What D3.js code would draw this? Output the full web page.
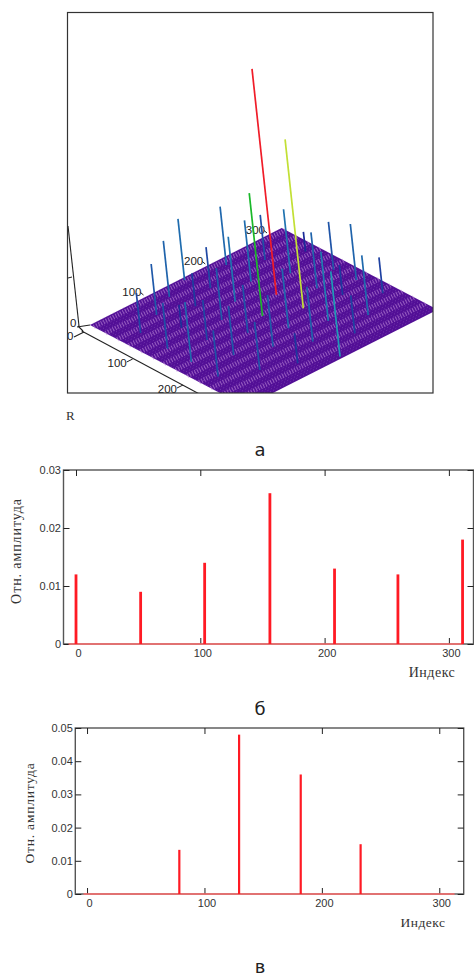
<!DOCTYPE html>
<html><head><meta charset="utf-8">
<script src="https://cdn.jsdelivr.net/npm/d3@7"></script>
<style>html,body{margin:0;padding:0;background:#fff;overflow:hidden}svg{display:block}</style>
</head><body><svg id="c" width="474" height="976"></svg>
<script>
// ---- 3D spectrum data ----
const stemRow = [73,113,153,213,30,27,73,26,120,162,75,120,161,73,25,207,121,71,161,254,207,208,254,302,252,163,120,114,162,209,296,161,263,299,252,211,300];
const stemCol = [47,24,6,18,67,126,98,176,69,48,148,123,100,205,232,76,175,261,156,47,128,182,99,71,156,207,228,286,258,232,136,315,195,179,261,284,232];
const stemAmp = [.0108,.0119,.013,.0124,.0085,.0098,.0049,.0127,.007,.0087,.0085,.011,.0138,.0104,.0098,.013,.0102,.0102,.0261,.0096,.048,.0359,.0136,.0042,.0119,.0127,.011,.0064,.0117,.0147,.0102,.0181,.0064,.0119,.0127,.0081,.0076];
const gridMax = 320;
const rowTicks3d = [100,200,300];
const colTicks3d = [100,200];
// ---- panel б ----
const idxB = [0,52,103.5,156,208,259,311];
const ampB = [.012,.009,.014,.026,.013,.012,.018];
const yTicksB = [0,.01,.02,.03];
// ---- panel в ----
const idxC = [78.6,129.5,182,233];
const ampC = [.0133,.048,.036,.015];
const yTicksC = [0,.01,.02,.03,.04,.05];
const xTicks = [0,100,200,300];

const svg = d3.select('#c');
const SANS = '"Liberation Sans",Arial,sans-serif', SERIF = '"Liberation Serif",serif', CAP = '"DejaVu Sans",sans-serif';

// ---- 3D panel ----
const F = {l:67.5,t:12.5,r:433,b:393};
svg.append('clipPath').attr('id','f3').append('rect').attr('x',F.l).attr('y',F.t).attr('width',F.r-F.l).attr('height',F.b-F.t);
const g3 = svg.append('g').attr('clip-path','url(#f3)');
const rx = d3.scaleLinear().domain([0,gridMax]).range([0,191.7]);
const ry = d3.scaleLinear().domain([0,gridMax]).range([0,-97]);
const cx = d3.scaleLinear().domain([0,gridMax]).range([0,156]);
const cy = d3.scaleLinear().domain([0,gridMax]).range([0,81.6]);
const zy = d3.scaleLinear().domain([0,.048]).range([0,-226]);
const zx = d3.scaleLinear().domain([0,.048]).range([0,-24.4]);
const P = (r,c,z=0,ox=90,oy=325)=>[ox+rx(r)+cx(c)+zx(z), oy+ry(r)+cy(c)+zy(z)];
const line = d3.line();

g3.append('path').attr('d',line([P(0,0),P(gridMax,0),P(gridMax,gridMax),P(0,gridMax)])+'Z').attr('fill','#520f96');
d3.range(8,gridMax,24).forEach(c=>{
  g3.append('path').attr('d',line([P(0,c),P(gridMax,c)])).attr('stroke','#c590dc').attr('stroke-width',4.6).attr('stroke-dasharray','1 1.7').attr('opacity',.6).attr('fill','none');
});
d3.range(0,gridMax,5).forEach(c=>{
  g3.append('path').attr('d',line([P(0,c),P(gridMax,c)])).attr('stroke','#a06ccc').attr('stroke-width',.9).attr('stroke-dasharray','1 2.7').attr('opacity',.5).attr('fill','none');
});

// axes of the 3D box
const ink='#222';
[[[68,226],[79,326]],[[77,327],[90,325]],[[78,326],[83,331]],[[74,337],[84,332]],[[81.7,331],[205,397]]].forEach(s=>
  g3.append('path').attr('d',line(s)).attr('stroke',ink).attr('stroke-width',1.1).attr('fill','none'));
g3.append('path').attr('d',line([[68,278],[72,277]])).attr('stroke',ink).attr('fill','none');
const rowAxX = d3.scaleLinear().domain([100,300]).range([143.5,267]);
const rowAxY = d3.scaleLinear().domain([100,300]).range([295,233]);
const colAxX = d3.scaleLinear().domain([100,200]).range([132.7,183]);
const colAxY = d3.scaleLinear().domain([100,200]).range([359,385]);
rowTicks3d.forEach(r=>{
  const px=rowAxX(r), py=rowAxY(r);
  g3.append('path').attr('d',line([[px-3,py-2.5],[px,py]])).attr('stroke',ink).attr('fill','none');
  g3.append('text').attr('x',px-2).attr('y',py+1).attr('text-anchor','end').attr('font-family',SANS).attr('font-size',11.5).attr('fill','#222').text(r);
});
colTicks3d.forEach(c=>{
  const px=colAxX(c), py=colAxY(c);
  g3.append('path').attr('d',line([[px,py],[px-6,py+3]])).attr('stroke',ink).attr('fill','none');
  g3.append('text').attr('x',px-6).attr('y',py+7.5).attr('text-anchor','end').attr('font-family',SANS).attr('font-size',11.5).attr('fill','#222').text(c);
});
[[70,327],[67,340]].forEach(q=>svg.append('text').attr('x',q[0]).attr('y',q[1]).attr('font-family',SANS).attr('font-size',11.5).attr('fill','#222').text(0));

// stems
const stemColor = d3.scaleLinear()
  .domain([.004,.009,.013,.018,.026,.036,.048])
  .range(['#1b2a98','#1f4aa4','#1f6cae','#1f9ab8','#18b82a','#c4e034','#f01c28']);
const stemIdx = d3.range(stemAmp.length).sort((a,b)=>stemRow[b]-stemRow[a]);
g3.selectAll('.stem').data(stemIdx).join('path').attr('class','stem')
  .attr('d',i=>line([P(stemRow[i],stemCol[i]),P(stemRow[i],stemCol[i],stemAmp[i])]))
  .attr('stroke',i=>stemColor(stemAmp[i])).attr('stroke-width',1.7).attr('fill','none');

svg.append('rect').attr('x',F.l).attr('y',F.t).attr('width',F.r-F.l).attr('height',F.b-F.t).attr('fill','none').attr('stroke','#333').attr('stroke-width',1.2);
svg.append('text').attr('x',66).attr('y',420).attr('font-family',SERIF).attr('font-size',13).attr('fill','#333').text('R');

// ---- 2D panels ----
function spectrum(o){
  const x=d3.scaleLinear().domain(o.xd).range([o.l,o.r]);
  const y=d3.scaleLinear().domain([0,o.yMax]).range([o.b,o.t]);
  const g=svg.append('g');
  const clean=s=>s.select('.domain').remove();
  const fx=d3.format('d'), fy=v=>v===0?'0':d3.format('.2f')(v);
  const ax=(gen,tx,ty)=>g.append('g').attr('transform',`translate(${tx},${ty})`).call(gen).call(clean)
     .call(s=>s.selectAll('line').attr('stroke','#222'));
  g.append('rect').attr('x',o.l).attr('y',o.t).attr('width',o.r-o.l).attr('height',o.b-o.t).attr('fill','none').attr('stroke','#555').attr('stroke-width',1.4);
  const bot=ax(d3.axisBottom(x).tickValues(xTicks).tickFormat(fx).tickSizeInner(-6).tickPadding(5),0,o.b);
  bot.selectAll('text').attr('dx',2).attr('font-family',SANS).attr('font-size',o.fs).attr('fill','#333');
  ax(d3.axisTop(x).tickValues(xTicks).tickFormat('').tickSizeInner(-6),0,o.t);
  const lf=ax(d3.axisLeft(y).tickValues(o.yt).tickFormat(fy).tickSizeInner(-6).tickPadding(2.5),o.l,0);
  lf.selectAll('text').attr('font-family',SANS).attr('font-size',o.fs).attr('fill','#333');
  ax(d3.axisRight(y).tickValues(o.yt).tickFormat('').tickSizeInner(-6),o.r,0);
  g.append('line').attr('x1',x(o.b0)).attr('x2',x(o.b1)).attr('y1',y(0)).attr('y2',y(0)).attr('stroke','#ff6b6b').attr('stroke-width',1.6);
  g.selectAll('.bar').data(o.idx).join('line').attr('class','bar')
    .attr('x1',d=>x(d)).attr('x2',d=>x(d)).attr('y1',y(0)).attr('y2',(d,i)=>y(o.amp[i]))
    .attr('stroke','#ff1a24').attr('stroke-width',o.bw);
  g.append('text').attr('transform',`translate(${o.yx},${o.yc}) rotate(-90)`).attr('text-anchor','middle')
    .attr('font-family',SERIF).attr('font-size',o.ls).attr('letter-spacing',o.lsp).attr('fill','#333').text('Отн. амплитуда');
  g.append('text').attr('x',o.xlx).attr('y',o.xly).attr('text-anchor','middle')
    .attr('font-family',SERIF).attr('font-size',o.ls).attr('letter-spacing',.5).attr('fill','#333').text('Индекс');
}
spectrum({l:63.5,r:473.5,t:470,b:644,xd:[-10.06,319.8],yMax:.03,yt:yTicksB,idx:idxB,amp:ampB,b0:-6,b1:311,bw:2.8,fs:11,yx:21,yc:551,ls:14,lsp:.9,xlx:432,xly:677});
spectrum({l:75.3,r:463.7,t:728,b:894,xd:[-10,320.8],yMax:.05,yt:yTicksC,idx:idxC,amp:ampC,b0:-3,b1:313,bw:2.2,fs:11,yx:34,yc:813,ls:13.5,lsp:.8,xlx:423,xly:927});

// captions
[['а',456],['б',715],['в',973]].forEach(c=>svg.append('text').attr('x',260).attr('y',c[1]).attr('text-anchor','middle').attr('font-family',CAP).attr('font-size',18).attr('fill','#222').text(c[0]));
</script></body></html>
